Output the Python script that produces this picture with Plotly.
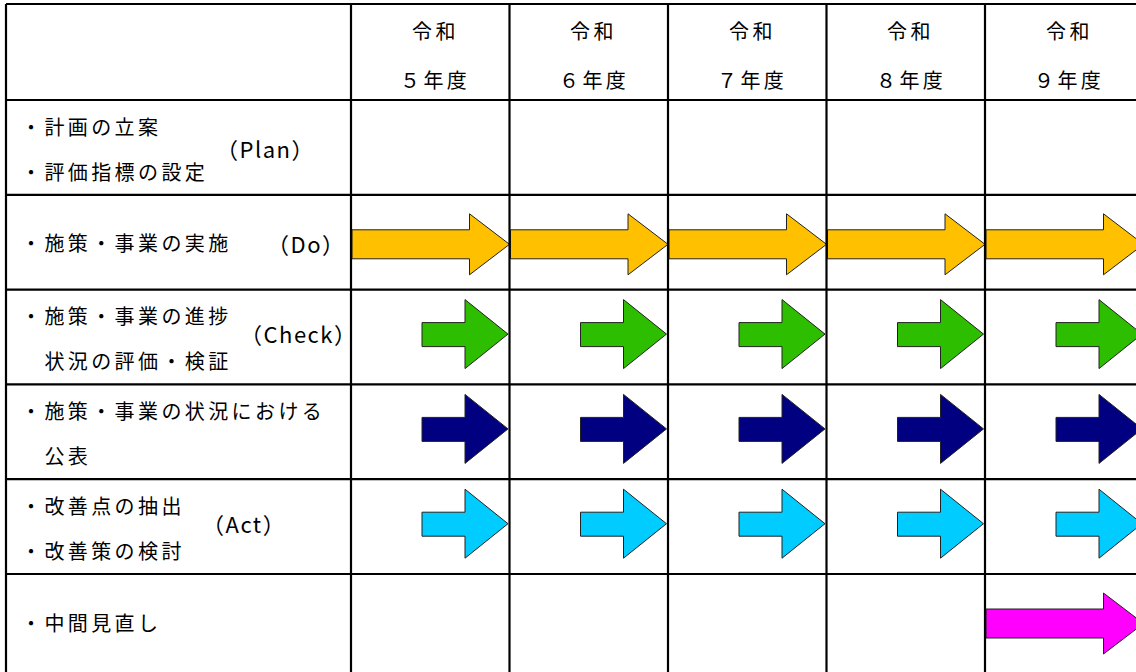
import plotly.graph_objects as go

# ---------------- data ----------------
era_label = "令和"
year_labels = ["５年度", "６年度", "７年度", "８年度", "９年度"]

row_left_lines = [
    ["・計画の立案", "・評価指標の設定"],
    ["・施策・事業の実施"],
    ["・施策・事業の進捗", "　状況の評価・検証"],
    ["・施策・事業の状況における", "　公表"],
    ["・改善点の抽出", "・改善策の検討"],
    ["・中間見直し"],
]
row_tags = ["（Plan）", "（Do）", "（Check）", "", "（Act）", ""]

# 1 = activity carried out in that fiscal year
row_schedule = [
    [0, 0, 0, 0, 0],
    [1, 1, 1, 1, 1],
    [1, 1, 1, 1, 1],
    [1, 1, 1, 1, 1],
    [1, 1, 1, 1, 1],
    [0, 0, 0, 0, 1],
]
row_arrow_kind = [None, "long", "short", "short", "short", "long"]
row_colors = [None, "#FFC000", "#2DBE00", "#000080", "#00CCFF", "#FF00FF"]

# ---------------- layout constants ----------------
W, H = 1136, 672
X0 = 6
LABEL_W = 345
YEAR_W = 158.5
Y0 = 4
HEADER_H = 96
ROW_H = 94.8
FONT = "Noto Sans CJK JP, Noto Sans CJK SC, sans-serif"
FS = 20


def sp(t, ls):
    return '<span style="letter-spacing:%spx">%s</span>' % (ls, t)


col_edges = [X0, X0 + LABEL_W] + [X0 + LABEL_W + YEAR_W * (i + 1) for i in range(len(year_labels))]
row_edges = [Y0, Y0 + HEADER_H] + [Y0 + HEADER_H + ROW_H * (i + 1) for i in range(len(row_left_lines))]

fig = go.Figure()
shapes = []
annotations = []
font = dict(family=FONT, size=FS, color="#000")
tag_font = dict(family=FONT, size=FS + 2, color="#000")

# grid lines (the last row continues past the bottom of the view)
for y in row_edges[:-1]:
    shapes.append(dict(type="line", xref="x", yref="y", x0=X0, x1=W, y0=y, y1=y,
                       line=dict(color="black", width=2.2)))
for x in col_edges:
    if x <= W:
        shapes.append(dict(type="line", xref="x", yref="y", x0=x, x1=x, y0=Y0, y1=H,
                           line=dict(color="black", width=2.2)))

# header
for i, yl in enumerate(year_labels):
    cx = (col_edges[i + 1] + col_edges[i + 2]) / 2 + 5
    annotations.append(dict(x=cx, y=Y0 + 26, text=sp(era_label, 3.4), showarrow=False, xref="x", yref="y",
                            xanchor="center", yanchor="middle", font=font))
    annotations.append(dict(x=cx, y=Y0 + 75, text=sp(yl, 3.4), showarrow=False, xref="x", yref="y",
                            xanchor="center", yanchor="middle", font=font))

# row labels
tag_pos = {0: (265, 48), 1: (306, 0), 2: (298, 43), 4: (244, 44)}
for r, lines in enumerate(row_left_lines):
    top = row_edges[r + 1]
    if len(lines) == 2:
        ys = [top + 26, top + 71]
    else:
        ys = [top + 48]
    for t, yy in zip(lines, ys):
        annotations.append(dict(x=X0 + 13, y=yy, text=sp(t, 3.4), showarrow=False, xref="x", yref="y",
                                xanchor="left", yanchor="middle", font=font))
    if row_tags[r]:
        tx, ty = tag_pos[r]
        yy = top + ty if ty else ys[0]
        annotations.append(dict(x=tx, y=yy, text=sp(row_tags[r], 1.5), showarrow=False, xref="x", yref="y",
                                xanchor="center", yanchor="middle", font=tag_font))


# arrows
def arrow_path(left, width, top, kind):
    if kind == "long":
        tip = left + width
        head = tip - 40
        start = left + 1
        s0, s1, h0, h1, ty = top + 35, top + 64, top + 19, top + 80, top + 49.5
    else:
        tip = left + width - 1.5
        head = tip - 43
        start = tip - 86
        s0, s1, h0, h1, ty = top + 33, top + 57, top + 10, top + 79, top + 44.5
    xs = [start, head, head, tip, head, head, start, start]
    ys = [s0, s0, h0, ty, h1, s1, s1, s0]
    return xs, ys


for r, sched in enumerate(row_schedule):
    kind = row_arrow_kind[r]
    if kind is None:
        continue
    top = row_edges[r + 1]
    for c, on in enumerate(sched):
        if not on:
            continue
        left = col_edges[c + 1]
        xs, ys = arrow_path(left, YEAR_W, top, kind)
        fig.add_trace(go.Scatter(x=xs, y=ys, mode="lines", fill="toself",
                                 fillcolor=row_colors[r], line=dict(color="#222", width=1),
                                 hoverinfo="skip", showlegend=False))

fig.update_layout(
    width=W, height=H,
    margin=dict(l=0, r=0, t=0, b=0),
    paper_bgcolor="white", plot_bgcolor="white",
    xaxis=dict(range=[0, W], visible=False, fixedrange=True),
    yaxis=dict(range=[H, 0], visible=False, fixedrange=True),
    shapes=shapes, annotations=annotations, showlegend=False,
)
fig.write_html("out.html", config={"displayModeBar": False},
               post_script="document.body.style.margin='0';document.body.style.overflow='hidden';")
